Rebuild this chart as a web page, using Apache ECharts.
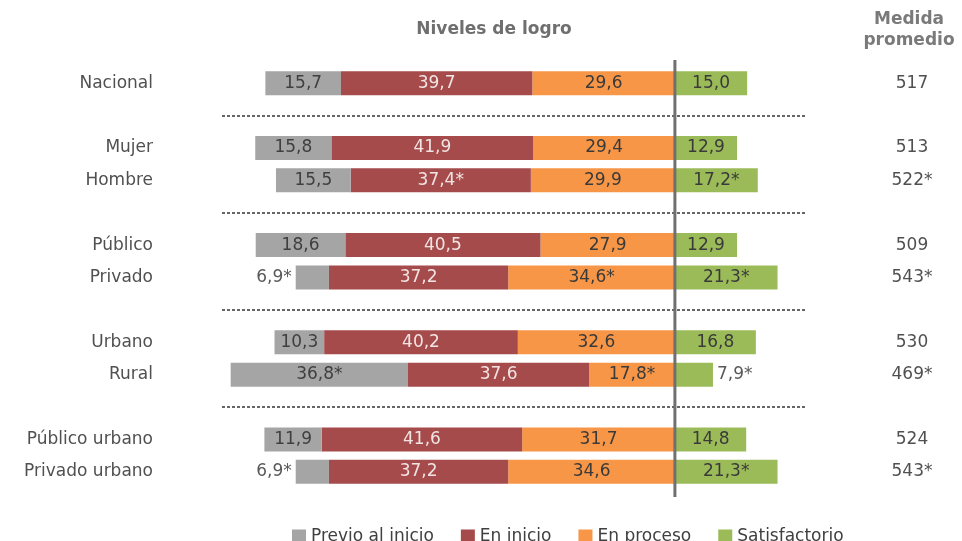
<!DOCTYPE html>
<html>
<head>
<meta charset="utf-8">
<script src="https://cdn.jsdelivr.net/npm/echarts@6/dist/echarts.min.js"></script>
<style>
  html, body { margin: 0; padding: 0; background: #fff; }
  #chart { width: 962px; height: 541px; }
</style>
</head>
<body>
<div id="chart"></div>
<script>
// rows, '' marks a dotted separator between groups
var categories = ['Nacional', '', 'Mujer', 'Hombre', '', 'Público', 'Privado', '', 'Urbano', 'Rural', '', 'Público urbano', 'Privado urbano'];

// percentages per level
var previo   = [15.7, null, 15.8, 15.5, null, 18.6, 6.9, null, 10.3, 36.8, null, 11.9, 6.9];
var enInicio = [39.7, null, 41.9, 37.4, null, 40.5, 37.2, null, 40.2, 37.6, null, 41.6, 37.2];
var enProceso = [29.6, null, 29.4, 29.9, null, 27.9, 34.6, null, 32.6, 17.8, null, 31.7, 34.6];
var satisf   = [15.0, null, 12.9, 17.2, null, 12.9, 21.3, null, 16.8, 7.9, null, 14.8, 21.3];

// 1 = significant difference (asterisk)
var previoStar   = [0, 0, 0, 0, 0, 0, 1, 0, 0, 1, 0, 0, 1];
var enInicioStar = [0, 0, 0, 1, 0, 0, 0, 0, 0, 0, 0, 0, 0];
var enProcesoStar = [0, 0, 0, 0, 0, 0, 1, 0, 0, 1, 0, 0, 0];
var satisfStar   = [0, 0, 0, 1, 0, 0, 1, 0, 0, 1, 0, 0, 1];

// right column
var medida = ['517', '', '513', '522*', '', '509', '543*', '', '530', '469*', '', '524', '543*'];

var FONT = 'DejaVu Sans';
var colors = ['#a5a5a5', '#a54b4b', '#f79646', '#9bbb59'];

function fmt(v, star) {
    return v.toFixed(1).replace('.', ',') + (star ? '*' : '');
}

// build bar data; left side levels are negative so they grow from the center line
function buildData(values, stars, sign, textColor, outsidePos) {
    return values.map(function (v, i) {
        if (v == null) return null;
        var small = v < 9;
        return {
            value: sign * v,
            label: {
                show: true,
                formatter: fmt(v, stars[i]),
                position: small && outsidePos ? outsidePos : 'inside',
                color: small && outsidePos ? '#595959' : textColor,
                distance: 4
            }
        };
    });
}

var separators = [];
categories.forEach(function (c, i) { if (c === '') separators.push(i); });

var markLineData = [];
separators.forEach(function (i) {
    markLineData.push({ yAxis: i, lineStyle: { type: [3, 2], width: 2, color: '#666666' } });
});

var labelBase = { fontFamily: FONT, fontSize: 17 };

var myChart = echarts.init(document.getElementById('chart'));

var option = {
    animation: false,
    title: [
        {
            text: 'Niveles de logro',
            left: 494, top: 21, padding: 0,
            textAlign: 'center',
            textStyle: { fontFamily: FONT, fontSize: 17, fontWeight: 'bold', color: '#6f6f6f' }
        },
        {
            text: 'Medida\npromedio',
            left: 909, top: 9, padding: 0,
            textAlign: 'center',
            textStyle: { fontFamily: FONT, fontSize: 17, fontWeight: 'bold', color: '#7a7a7a', lineHeight: 21 }
        }
    ],
    legend: {
        data: ['Previo al inicio', 'En inicio', 'En proceso', 'Satisfactorio'],
        left: 292,
        top: 528,
        padding: 0,
        icon: 'rect',
        itemWidth: 14,
        itemHeight: 14,
        itemGap: 27,
        textStyle: { fontFamily: FONT, fontSize: 17, color: '#404040' }
    },
    grid: {
        left: 222,
        right: 157,
        top: 67,
        bottom: 53
    },
    xAxis: {
        type: 'value',
        min: -94,
        max: 27,
        show: false
    },
    yAxis: [
        {
            type: 'category',
            data: categories,
            inverse: true,
            axisLine: { show: false, onZero: false },
            axisTick: { show: false },
            axisLabel: { margin: 69, interval: 0, fontFamily: FONT, fontSize: 17, color: '#505050' }
        },
        {
            type: 'category',
            data: medida,
            inverse: true,
            position: 'right',
            axisLine: { show: false, onZero: false },
            axisTick: { show: false },
            axisLabel: { margin: 107, interval: 0, align: 'center', fontFamily: FONT, fontSize: 17, color: '#505050' }
        }
    ],
    series: [
        {
            name: 'En proceso',
            type: 'bar',
            stack: 'total',
            barWidth: 24,
            itemStyle: { color: colors[2] },
            label: labelBase,
            data: buildData(enProceso, enProcesoStar, -1, '#3a3a3a', null)
        },
        {
            name: 'En inicio',
            type: 'bar',
            stack: 'total',
            barWidth: 24,
            itemStyle: { color: colors[1] },
            label: labelBase,
            data: buildData(enInicio, enInicioStar, -1, '#f3e4e4', null)
        },
        {
            name: 'Previo al inicio',
            type: 'bar',
            stack: 'total',
            barWidth: 24,
            itemStyle: { color: colors[0] },
            label: labelBase,
            data: buildData(previo, previoStar, -1, '#3f3f3f', 'left')
        },
        {
            name: 'Satisfactorio',
            type: 'bar',
            stack: 'total',
            barWidth: 24,
            itemStyle: { color: colors[3] },
            label: labelBase,
            data: buildData(satisf, satisfStar, 1, '#3a3a3a', 'right'),
            markLine: {
                silent: true,
                symbol: ['none', 'none'],
                label: { show: false },
                data: markLineData
            }
        }
    ]
};

myChart.setOption(option);

// center line at 0, a bit taller than the plot area
var x0 = myChart.convertToPixel({ xAxisIndex: 0 }, 0);
myChart.setOption({
    graphic: [{
        type: 'line',
        z: 10,
        shape: { x1: x0, y1: 60, x2: x0, y2: 497 },
        style: { stroke: '#707070', lineWidth: 3 }
    }]
});
</script>
</body>
</html>
